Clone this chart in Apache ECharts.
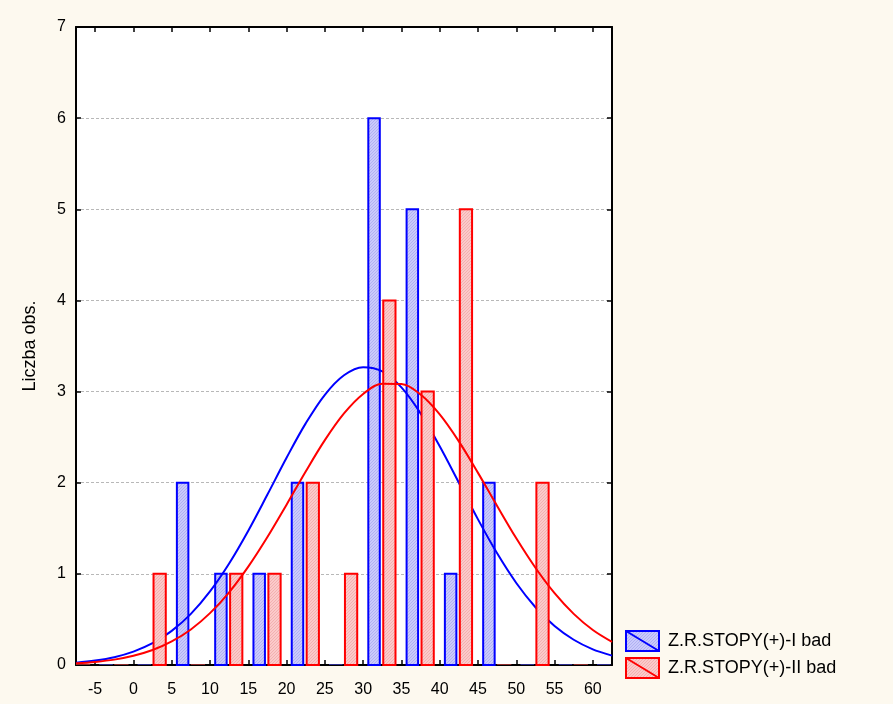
<!DOCTYPE html>
<html><head><meta charset="utf-8">
<script src="https://cdn.jsdelivr.net/npm/echarts@6/dist/echarts.min.js"></script>
<style>html,body{margin:0;padding:0;background:#fdf9ef}#c{width:893px;height:704px}</style>
</head><body><div id="c"></div>
<script>
// ---- data ----
const binStarts = [-10, -5, 0, 5, 10, 15, 20, 25, 30, 35, 40, 45, 50, 55, 60];
const binWidth = 5;
const countsI  = [0, 0, 0, 2, 1, 1, 2, 0, 6, 5, 1, 2, 0, 0, 0];
const countsII = [0, 0, 1, 0, 1, 1, 2, 1, 4, 3, 5, 0, 2, 0, 0];
const seriesNames = ['Z.R.STOPY(+)-I bad', 'Z.R.STOPY(+)-II bad'];
const xTickValues = [-5, 0, 5, 10, 15, 20, 25, 30, 35, 40, 45, 50, 55, 60];
const yAxisTitle = 'Liczba obs.';
// fitted normal curves
const curveX  = [-7.5, -5, -2.5, 0, 2.5, 5, 7.5, 10, 12.5, 15, 17.5, 20, 22.5, 25, 27.5, 30, 32.5, 35, 37.5, 40, 42.5, 45, 47.5, 50, 52.5, 55, 57.5, 60, 62.5];
const curveI  = [0.026, 0.049, 0.086, 0.147, 0.239, 0.374, 0.561, 0.808, 1.114, 1.474, 1.870, 2.274, 2.651, 2.965, 3.179, 3.268, 3.222, 3.046, 2.761, 2.400, 2.000, 1.598, 1.225, 0.900, 0.634, 0.428, 0.277, 0.172, 0.103];
const curveII = [0.018, 0.034, 0.059, 0.101, 0.164, 0.258, 0.390, 0.569, 0.798, 1.079, 1.404, 1.759, 2.123, 2.467, 2.760, 2.974, 3.087, 3.084, 2.968, 2.750, 2.454, 2.108, 1.745, 1.390, 1.067, 0.788, 0.561, 0.384, 0.254];

// ---- styling helpers ----
function hatch(base, line) {
  const c = document.createElement('canvas');
  c.width = 3; c.height = 3;
  const g = c.getContext('2d');
  g.fillStyle = base; g.fillRect(0, 0, 3, 3);
  g.fillStyle = line;
  g.fillRect(2, 0, 1, 1); g.fillRect(1, 1, 1, 1); g.fillRect(0, 2, 1, 1);
  return { image: c, repeat: 'repeat' };
}
const patI = hatch('#cacafb', '#b0b0f2');
const patII = hatch('#fbcaca', '#f2b0b0');
const FONT = 'Liberation Sans, Arial, sans-serif';

function makeRender(f0, f1, stroke, fill, zeroColor) {
  return function (params, api) {
    const s = api.value(0), n = api.value(1);
    const a = api.coord([s + binWidth * f0, n]);
    const b = api.coord([s + binWidth * f1, 0]);
    const cs = params.coordSys;
    let shape;
    if (n === 0) shape = { x: a[0] - 1, y: b[1] - 1, width: b[0] - a[0] + 2, height: 2 };
    else shape = { x: a[0], y: a[1], width: b[0] - a[0], height: b[1] - a[1] };
    shape = echarts.graphic.clipRectByRect(shape, { x: cs.x, y: cs.y, width: cs.width, height: cs.height });
    if (!shape) return;
    if (n === 0) return { type: 'rect', shape: shape, style: { fill: zeroColor } };
    return { type: 'rect', shape: shape, style: { fill: fill, stroke: stroke, lineWidth: 2 } };
  };
}

const chart = echarts.init(document.getElementById('c'), null, { renderer: 'canvas' });
const axisLine = { show: true, onZero: false, lineStyle: { color: '#000', width: 2 } };
const legendIcon = 'path://M0 0H33V20H0ZM0 0L33 20';

chart.setOption({
  backgroundColor: '#fdf9ef',
  animation: false,
  grid: { left: 76, right: 281, top: 27, bottom: 39, show: true, backgroundColor: '#ffffff', borderColor: '#000', borderWidth: 1 },
  legend: {
    orient: 'vertical', left: 625, top: 630, padding: 0, itemGap: 5, itemWidth: 33, itemHeight: 20,
    textStyle: { fontSize: 18, color: '#000', fontFamily: FONT, padding: [0, 0, 0, 4] },
    selectedMode: false,
    data: [
      { name: seriesNames[0], icon: legendIcon, itemStyle: { color: patI, borderColor: '#0000ff', borderWidth: 2 } },
      { name: seriesNames[1], icon: legendIcon, itemStyle: { color: patII, borderColor: '#ff0000', borderWidth: 2 } }
    ]
  },
  xAxis: [
    { type: 'value', min: -7.5, max: 62.5, position: 'bottom', axisLine: axisLine,
      axisTick: { show: true, inside: true, length: 5, customValues: xTickValues, lineStyle: { color: '#000', width: 1.5 } },
      axisLabel: { customValues: xTickValues, fontSize: 16, color: '#000', margin: 17, fontFamily: FONT },
      splitLine: { show: false } },
    { type: 'value', min: -7.5, max: 62.5, position: 'top', axisLine: axisLine,
      axisTick: { show: true, inside: true, length: 5, customValues: xTickValues, lineStyle: { color: '#000', width: 1.5 } },
      axisLabel: { show: false }, splitLine: { show: false } }
  ],
  yAxis: [
    { type: 'value', min: 0, max: 7, interval: 1, position: 'left', axisLine: axisLine,
      axisTick: { show: true, inside: true, length: 5, lineStyle: { color: '#000', width: 1.5 } },
      axisLabel: { fontSize: 16, color: '#000', margin: 10, fontFamily: FONT },
      splitLine: { show: true, lineStyle: { color: '#b8b8b8', type: [3, 2], width: 1 } },
      name: yAxisTitle, nameLocation: 'middle', nameGap: 37,
      nameTextStyle: { fontSize: 18, color: '#000', fontFamily: FONT } },
    { type: 'value', min: 0, max: 7, interval: 1, position: 'right', axisLine: axisLine,
      axisTick: { show: true, inside: true, length: 5, lineStyle: { color: '#000', width: 1.5 } },
      axisLabel: { show: false }, splitLine: { show: false } }
  ],
  series: [
    { type: 'custom', name: seriesNames[0], z: 2, xAxisIndex: 0, yAxisIndex: 0,
      itemStyle: { color: patI, borderColor: '#0000ff' },
      renderItem: makeRender(0.135, 0.435, '#0000ff', patI, '#2c2c8c'),
      encode: { x: 0, y: 1 },
      data: binStarts.map((s, i) => [s, countsI[i]]) },
    { type: 'line', name: 'fitI', z: 3, smooth: 0.35, showSymbol: false, silent: true,
      lineStyle: { color: '#0000ff', width: 2 }, itemStyle: { color: '#0000ff' },
      data: curveX.map((x, i) => [x, curveI[i]]) },
    { type: 'custom', name: seriesNames[1], z: 4, xAxisIndex: 0, yAxisIndex: 0,
      itemStyle: { color: patII, borderColor: '#ff0000' },
      renderItem: makeRender(0.525, 0.845, '#ff0000', patII, '#8c2c2c'),
      encode: { x: 0, y: 1 },
      data: binStarts.map((s, i) => [s, countsII[i]]) },
    { type: 'line', name: 'fitII', z: 5, smooth: 0.35, showSymbol: false, silent: true,
      lineStyle: { color: '#ff0000', width: 2 }, itemStyle: { color: '#ff0000' },
      data: curveX.map((x, i) => [x, curveII[i]]) }
  ]
});
</script>
</body></html>
